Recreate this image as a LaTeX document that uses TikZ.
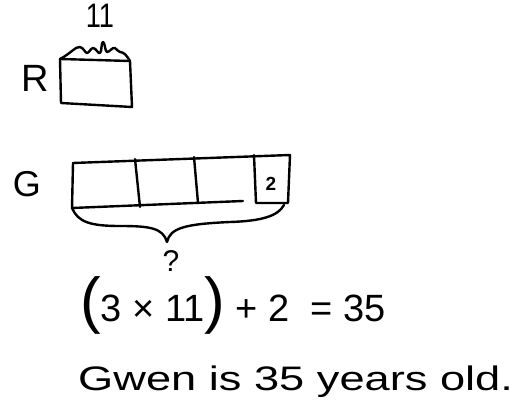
\documentclass[tikz,border=0pt]{standalone}
\usepackage{fontspec}
\setmainfont{Liberation Sans}
\begin{document}
\begin{tikzpicture}[x=1pt,y=-1pt,
  pen/.style={line width=2.4pt,line cap=round,line join=round,black},
  hand/.style={inner sep=0pt,text=black}]
\useasboundingbox (0,0) rectangle (517,414);
% labels
\node[hand,font=\fontsize{34}{34}\selectfont] (eleven) at (100,16) {\scalebox{0.8}[1]{11}};
\node[hand,font=\fontsize{38}{38}\selectfont] (rlab) at (35,78) {R};
\node[hand,font=\fontsize{36}{36}\selectfont] (glab) at (27,184) {G};
% R box
\coordinate (r1) at (60,59);
\coordinate (r2) at (130,61);
\coordinate (r3) at (132,107);
\coordinate (r4) at (61,103);
\draw[pen] (r1) -- (r2) -- (r3) -- (r4) -- cycle;
\draw[pen] (r1) .. controls (70,54) and (76,46) .. (80,47)
  .. controls (84,48) and (85,53) .. (87,53)
  .. controls (89,53) and (91,48) .. (93,48)
  .. controls (96,48) and (98,54) .. (100,53)
  .. controls (102,52) and (101,42) .. (103,42)
  .. controls (105,42) and (105,52) .. (107,52)
  .. controls (110,52) and (112,47) .. (115,48)
  .. controls (117,49) and (118,52) .. (120,52)
  .. controls (124,52) and (127,56) .. (r2);
% G bar
\coordinate (g1) at (73,163);
\coordinate (g2) at (290,155);
\coordinate (g3) at (288,203);
\coordinate (g4) at (72,208);
\coordinate (gb) at (243,201);
\draw[pen] (g1) -- (g2) -- (g3) -- (256,203) -- (254,155);
\draw[pen] (g1) -- (g4) -- (gb);
\draw[pen] (135,159) -- (140,207);
\draw[pen] (194,157) -- (198,203);
\node[hand,font=\fontsize{19}{19}\selectfont\bfseries] (two) at (271,184) {2};
% brace
\coordinate (btip) at (167,242);
\draw[pen] (g4) .. controls (78,222) and (90,226) .. (120,226)
  .. controls (150,226) and (163,228) .. (btip)
  .. controls (170,228) and (185,224) .. (230,222)
  .. controls (262,221) and (278,216) .. (284,205);
\node[hand,font=\fontsize{30}{30}\selectfont] (q) at (171,261) {?};
% equation
\node[hand,anchor=base west,font=\fontsize{38}{38}\selectfont] (eq) at (80,321)
  {{\fontsize{62}{62}\selectfont(}3 × 11{\fontsize{62}{62}\selectfont)} + 2\hspace{10pt} = 35};
% sentence
\node[hand,anchor=base west,font=\fontsize{34}{34}\selectfont] (sent) at (78,390)
  {\scalebox{1.33}[1]{Gwen is 35 years old.}};
\end{tikzpicture}
\end{document}
